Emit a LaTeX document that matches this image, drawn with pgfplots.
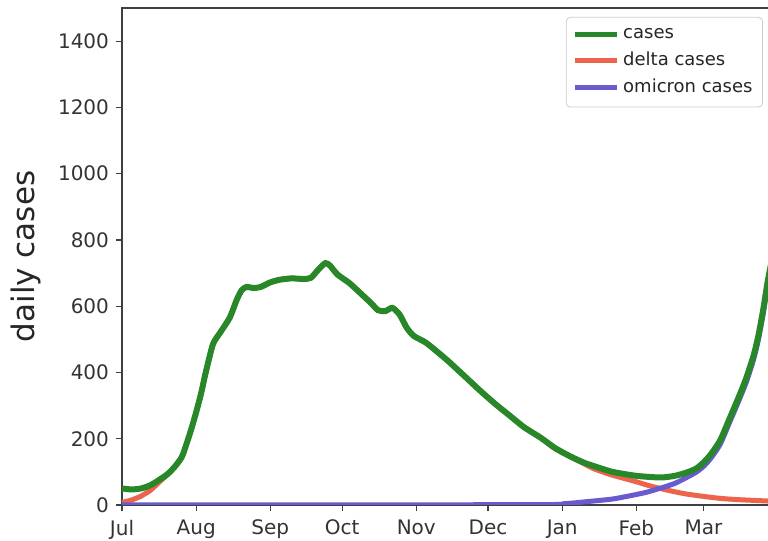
\documentclass[border=0pt]{standalone}
\usepackage{pgfplots}
\pgfplotsset{compat=1.18}
\usepackage{fontspec}
\setmainfont{DejaVu Sans}
\definecolor{cgreen}{RGB}{40,135,40}
\definecolor{cred}{RGB}{235,100,75}
\definecolor{cpurple}{RGB}{105,90,205}
\begin{document}
\begin{tikzpicture}
\useasboundingbox (-61pt,-18pt) rectangle (323pt,252.5pt);
\begin{axis}[
  scale only axis,
  width=326.6pt, height=248.5pt,
  xmin=0, xmax=273, ymin=0, ymax=1500,
  xtick={0,31,62,92,123,153,184,215,243},
  xticklabels={Jul,Aug,Sep,Oct,Nov,Dec,Jan,Feb,Mar},
  ytick={0,200,400,600,800,1000,1200,1400},
  xtick pos=bottom, ytick pos=left,
  tick align=outside, major tick length=3pt,
  tick style={black!75, line width=0.6pt},
  axis line style={black!75, line width=0.6pt},
  ticklabel style={font=\fontsize{10}{12}\selectfont, text=black!80},
  /pgf/number format/assume math mode=true,
  /pgf/number format/1000 sep={},
  xticklabel style={yshift=-1pt},
  ylabel={daily cases},
  every axis y label/.style={at={(axis description cs:-0.147,0.5)}, rotate=90, anchor=center, font=\fontsize{15.5}{18}\selectfont, text=black!85},
  legend cell align=left,
  legend style={at={(axis description cs:0.9813,0.982)}, anchor=north east,
    draw=black!20, rounded corners=2pt, font=\fontsize{9}{13.5}\selectfont,
    text=black!85, inner xsep=3pt, inner ysep=3.5pt, row sep=1.3pt},
  legend image code/.code={\draw[#1, line width=2.5pt] (0pt,0pt) -- (21pt,0pt);},
]
\addplot[cred, line width=2.5pt, smooth, tension=0.4, forget plot] coordinates {
(0,8) (4,15) (8,27) (12,45) (16,72) (19,92) (22,115) (25,145) (27,185) (29,230)
(31,280) (33,335) (35,400) (38,485) (41,520) (45,565) (48,620) (50,648) (52,658)
(55,655) (58,658) (62,672) (66,680) (71,684) (76,682) (79,686) (82,710) (85,730)
(87,722) (90,696) (95,670) (100,637) (104,610) (107,588) (110,585) (113,595)
(116,575) (119,535) (122,510) (127,490) (133,455) (137,430) (143,390) (150,343)
(156,305) (162,270) (168,235) (175,203) (181,170) (187,147) (193,125) (197,110)
(204,92) (211,78) (215,70) (220,59) (226,48) (231,40) (236,33) (243,26) (250,20)
(258,16) (273,11)
};
\addplot[cpurple, line width=2.5pt, smooth, tension=0.4, forget plot] coordinates {
(0,0) (170,1) (185,4) (197,12) (205,18) (211,26) (219,38) (226,53) (231,65)
(236,83) (240,99) (243,116) (246,140) (250,183) (254,250) (258,318) (261,372)
(264,440) (266,500) (268,578) (270,668) (273,780)
};
\addplot[cgreen, line width=3pt, smooth, tension=0.4] coordinates {
(0,50) (4,47) (8,50) (12,60) (16,78) (19,93) (22,115) (25,145) (27,185) (29,230)
(31,280) (33,335) (35,400) (38,485) (41,520) (45,565) (48,620) (50,648) (52,658)
(55,655) (58,658) (62,672) (66,680) (71,684) (76,682) (79,686) (82,710) (85,730)
(87,722) (90,696) (95,670) (100,637) (104,610) (107,588) (110,585) (113,595)
(116,575) (119,535) (122,510) (127,490) (133,455) (137,430) (143,390) (150,343)
(156,305) (162,270) (168,235) (175,203) (181,172) (187,148) (193,128) (197,118)
(205,100) (215,88) (225,83) (231,88) (236,98) (240,110) (243,128) (246,152)
(250,195) (254,262) (258,330) (261,385) (264,452) (266,512) (268,590) (270,680) (273,790)
};
\addlegendentry{cases}
\addlegendimage{cred}
\addlegendentry{delta cases}
\addlegendimage{cpurple}
\addlegendentry{omicron cases}
\end{axis}
\end{tikzpicture}
\end{document}
